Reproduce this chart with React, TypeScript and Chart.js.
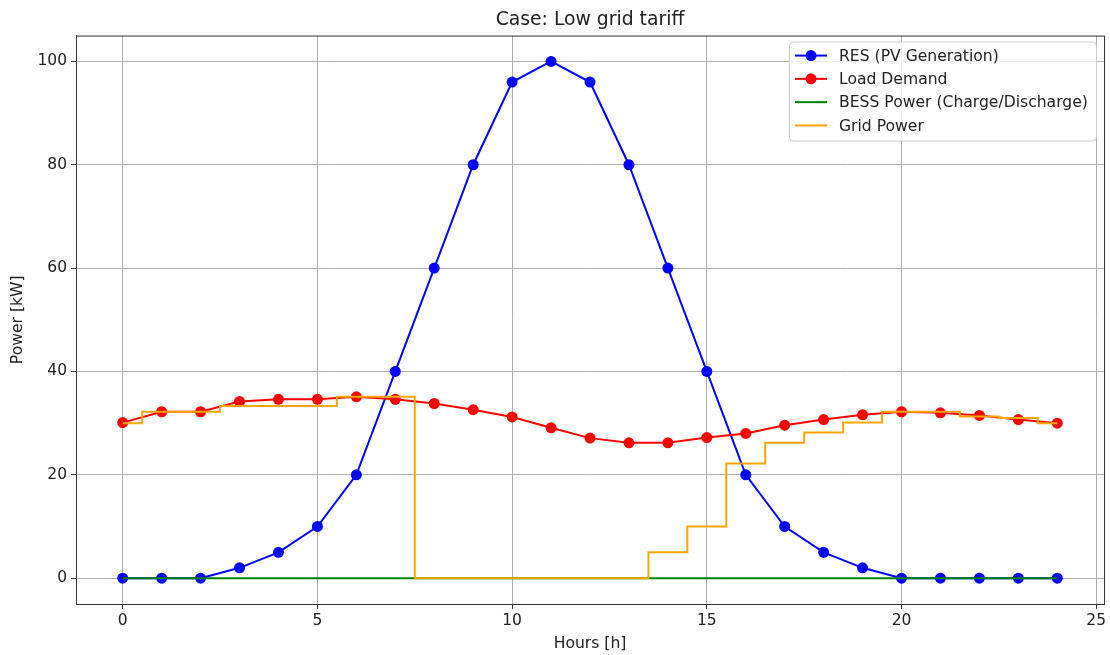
import React, { useEffect, useRef } from "react";
import { Chart, registerables } from "chart.js";

Chart.register(...registerables);

const hours = [0, 1, 2, 3, 4, 5, 6, 7, 8, 9, 10, 11, 12, 13, 14, 15, 16, 17, 18, 19, 20, 21, 22, 23, 24];
const resPower = [0, 0, 0, 2, 5, 10, 20, 40, 60, 80, 96, 100, 96, 80, 60, 40, 20, 10, 5, 2, 0, 0, 0, 0, 0];
const loadDemand = [30.1, 32.2, 32.2, 34.2, 34.6, 34.6, 35.1, 34.6, 33.8, 32.6, 31.2, 29.1, 27.1, 26.2, 26.2, 27.2, 28.0, 29.6, 30.7, 31.6, 32.2, 32.0, 31.5, 30.7, 30.0];
const bessPower = [0, 0, 0, 0, 0, 0, 0, 0, 0, 0, 0, 0, 0, 0, 0, 0, 0, 0, 0, 0, 0, 0, 0, 0, 0];
const gridPower = [30, 32.2, 32.2, 33.3, 33.3, 33.3, 35.1, 35.1, 0, 0, 0, 0, 0, 0, 5, 10, 22.2, 26.2, 28.2, 30.1, 32.2, 32.2, 31.3, 31.0, 30];
const xTicks = [0, 5, 10, 15, 20, 25];
const yTicks = [0, 20, 40, 60, 80, 100];

const FONT = "'DejaVu Sans', sans-serif";

const framePlugin = {
  id: "mplFrame",
  afterDatasetsDraw(chart: any) {
    const { ctx, chartArea } = chart;
    ctx.save();
    ctx.strokeStyle = "#333";
    ctx.lineWidth = 1;
    ctx.strokeRect(chartArea.left + 0.5, chartArea.top + 0.5, chartArea.right - chartArea.left, chartArea.bottom - chartArea.top);
    ctx.restore();
  },
};

const legendPlugin = {
  id: "mplLegend",
  afterDraw(chart: any) {
    const { ctx, chartArea } = chart;
    const w = 307;
    const h = 99;
    const x0 = chartArea.right - 8 - w;
    const y0 = chartArea.top + 6;
    ctx.save();
    ctx.beginPath();
    ctx.roundRect(x0 + 0.5, y0 + 0.5, w, h, 4);
    ctx.fillStyle = "rgba(255,255,255,0.8)";
    ctx.fill();
    ctx.strokeStyle = "#cccccc";
    ctx.lineWidth = 1;
    ctx.stroke();
    ctx.font = `15.6px ${FONT}`;
    ctx.textBaseline = "middle";
    ctx.textAlign = "left";
    const datasets = chart.data.datasets;
    datasets.forEach((ds: any, i: number) => {
      const cy = y0 + 14 + i * 23.3;
      const lx0 = x0 + 6;
      const lx1 = x0 + 38;
      ctx.strokeStyle = ds.borderColor;
      ctx.lineWidth = 2;
      ctx.beginPath();
      ctx.moveTo(lx0, cy);
      ctx.lineTo(lx1, cy);
      ctx.stroke();
      if (ds.pointRadius > 0) {
        ctx.fillStyle = ds.borderColor;
        ctx.beginPath();
        ctx.arc((lx0 + lx1) / 2, cy, ds.pointRadius, 0, Math.PI * 2);
        ctx.fill();
      }
      ctx.fillStyle = "#222";
      ctx.fillText(ds.label, x0 + 50, cy + 1);
    });
    ctx.restore();
  },
};

export default function App() {
  const canvasRef = useRef<HTMLCanvasElement | null>(null);

  useEffect(() => {
    document.body.style.margin = "0";
    const canvas = canvasRef.current;
    if (!canvas) return;
    const toPts = (arr: number[]) => hours.map((h, i) => ({ x: h, y: arr[i] }));
    const chart = new Chart(canvas, {
      type: "line",
      data: {
        datasets: [
          {
            label: "RES (PV Generation)",
            data: toPts(resPower),
            borderColor: "#0000ff",
            backgroundColor: "#0000ff",
            borderWidth: 2,
            pointRadius: 5.5,
            pointBorderWidth: 0,
            pointBackgroundColor: "#0000ff",
            order: 4,
          },
          {
            label: "Load Demand",
            data: toPts(loadDemand),
            borderColor: "#ff0000",
            backgroundColor: "#ff0000",
            borderWidth: 2,
            pointRadius: 5.5,
            pointBorderWidth: 0,
            pointBackgroundColor: "#ff0000",
            order: 3,
          },
          {
            label: "BESS Power (Charge/Discharge)",
            data: toPts(bessPower),
            borderColor: "#008000",
            backgroundColor: "#008000",
            borderWidth: 2,
            pointRadius: 0,
            order: 2,
          },
          {
            label: "Grid Power",
            data: toPts(gridPower),
            borderColor: "#ffa500",
            backgroundColor: "#ffa500",
            borderWidth: 2,
            pointRadius: 0,
            stepped: "middle",
            order: 1,
          },
        ],
      },
      options: {
        responsive: false,
        animation: false,
        layout: { padding: { left: 0, right: 6, top: 0, bottom: 0 } },
        plugins: {
          legend: { display: false },
          tooltip: { enabled: false },
          title: {
            display: true,
            fullSize: false,
            text: "Case: Low grid tariff",
            color: "#222",
            font: { family: FONT, size: 18.8, weight: "normal" },
            padding: { top: 9, bottom: 4 },
          },
        },
        scales: {
          x: {
            type: "linear",
            min: -1.2,
            max: 25.2,
            afterBuildTicks: (scale: any) => {
              scale.ticks = xTicks.map((v) => ({ value: v }));
            },
            afterFit: (scale: any) => {
              scale.height = 51;
            },
            grid: { color: "#b0b0b0", lineWidth: 1, tickLength: 5, tickColor: "#333" },
            border: { display: true, color: "#333", width: 1 },
            ticks: {
              color: "#222",
              font: { family: FONT, size: 15.5 },
              padding: 3,
              maxRotation: 0,
              autoSkip: false,
            },
            title: {
              display: true,
              text: "Hours [h]",
              color: "#222",
              font: { family: FONT, size: 15.6 },
              padding: { top: 2, bottom: 2 },
            },
          },
          y: {
            type: "linear",
            min: -5,
            max: 105,
            afterBuildTicks: (scale: any) => {
              scale.ticks = yTicks.map((v) => ({ value: v }));
            },
            afterFit: (scale: any) => {
              scale.width = 76;
            },
            grid: { color: "#b0b0b0", lineWidth: 1, tickLength: 5, tickColor: "#333" },
            border: { display: true, color: "#333", width: 1 },
            ticks: {
              color: "#222",
              font: { family: FONT, size: 15.5 },
              padding: 4,
              autoSkip: false,
            },
            title: {
              display: true,
              text: "Power [kW]",
              color: "#222",
              font: { family: FONT, size: 15.6 },
              padding: { top: 9, bottom: 0 },
            },
          },
        },
      },
      plugins: [framePlugin, legendPlugin],
    } as any);
    return () => chart.destroy();
  }, []);

  return <canvas ref={canvasRef} width={1110} height={655} style={{ display: "block" }} />;
}
